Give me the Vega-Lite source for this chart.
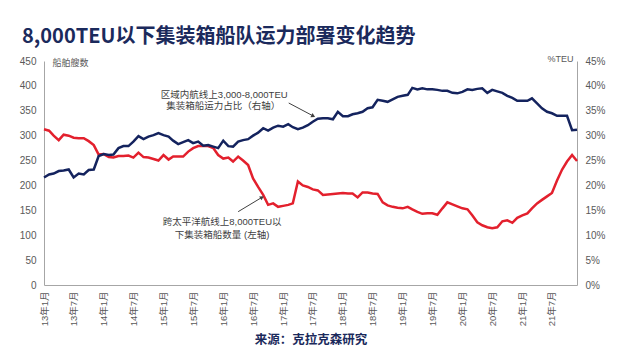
{
  "$schema": "https://vega.github.io/schema/vega-lite/v6.json",
  "width": 533,
  "height": 224,
  "autosize": {"type": "none"},
  "padding": {"left": 44, "top": 61, "right": 47, "bottom": 79},
  "background": "white",
  "title": {
    "text": "8,000TEU以下集装箱船队运力部署变化趋势",
    "anchor": "start",
    "frame": "group",
    "dx": -22,
    "offset": 7,
    "fontSize": 20,
    "fontWeight": "bold",
    "font": "Noto Sans CJK SC",
    "color": "#1b2a5c"
  },
  "config": {
    "view": {"stroke": null},
    "axis": {
      "labelFont": "Liberation Sans, Noto Sans CJK SC",
      "titleFont": "Noto Sans CJK SC",
      "labelColor": "#595959",
      "domainColor": "#a6a6a6",
      "grid": false,
      "ticks": false,
      "labelOverlap": false
    }
  },
  "datasets": {
    "series": [
      {"date": "2013-01-01", "count": 313, "share": 21.6},
      {"date": "2013-02-01", "count": 310, "share": 22.2},
      {"date": "2013-03-01", "count": 300, "share": 22.4},
      {"date": "2013-04-01", "count": 291, "share": 22.9},
      {"date": "2013-05-01", "count": 302, "share": 23.0},
      {"date": "2013-06-01", "count": 300, "share": 23.2},
      {"date": "2013-07-01", "count": 296, "share": 21.6},
      {"date": "2013-08-01", "count": 295, "share": 22.4},
      {"date": "2013-09-01", "count": 295, "share": 22.2},
      {"date": "2013-10-01", "count": 289, "share": 23.1},
      {"date": "2013-11-01", "count": 281, "share": 23.2},
      {"date": "2013-12-01", "count": 262, "share": 25.9},
      {"date": "2014-01-01", "count": 263, "share": 26.3},
      {"date": "2014-02-01", "count": 257, "share": 26.1},
      {"date": "2014-03-01", "count": 256, "share": 26.2},
      {"date": "2014-04-01", "count": 259, "share": 27.5},
      {"date": "2014-05-01", "count": 259, "share": 27.9},
      {"date": "2014-06-01", "count": 260, "share": 27.9},
      {"date": "2014-07-01", "count": 256, "share": 28.8},
      {"date": "2014-08-01", "count": 266, "share": 29.9},
      {"date": "2014-09-01", "count": 257, "share": 29.3},
      {"date": "2014-10-01", "count": 256, "share": 29.8},
      {"date": "2014-11-01", "count": 253, "share": 30.1},
      {"date": "2014-12-01", "count": 250, "share": 30.5},
      {"date": "2015-01-01", "count": 261, "share": 30.1},
      {"date": "2015-02-01", "count": 252, "share": 29.8},
      {"date": "2015-03-01", "count": 258, "share": 29.0},
      {"date": "2015-04-01", "count": 258, "share": 28.3},
      {"date": "2015-05-01", "count": 258, "share": 28.7},
      {"date": "2015-06-01", "count": 268, "share": 29.1},
      {"date": "2015-07-01", "count": 275, "share": 28.5},
      {"date": "2015-08-01", "count": 279, "share": 28.8},
      {"date": "2015-09-01", "count": 279, "share": 28.0},
      {"date": "2015-10-01", "count": 279, "share": 28.1},
      {"date": "2015-11-01", "count": 275, "share": 27.8},
      {"date": "2015-12-01", "count": 261, "share": 27.5},
      {"date": "2016-01-01", "count": 254, "share": 29.0},
      {"date": "2016-02-01", "count": 256, "share": 27.9},
      {"date": "2016-03-01", "count": 248, "share": 27.8},
      {"date": "2016-04-01", "count": 258, "share": 28.8},
      {"date": "2016-05-01", "count": 250, "share": 29.1},
      {"date": "2016-06-01", "count": 241, "share": 29.3},
      {"date": "2016-07-01", "count": 214, "share": 30.0},
      {"date": "2016-08-01", "count": 197, "share": 30.6},
      {"date": "2016-09-01", "count": 181, "share": 31.5},
      {"date": "2016-10-01", "count": 161, "share": 31.0},
      {"date": "2016-11-01", "count": 164, "share": 31.6},
      {"date": "2016-12-01", "count": 157, "share": 32.0},
      {"date": "2017-01-01", "count": 159, "share": 31.8},
      {"date": "2017-02-01", "count": 161, "share": 32.3},
      {"date": "2017-03-01", "count": 164, "share": 31.7},
      {"date": "2017-04-01", "count": 208, "share": 31.3},
      {"date": "2017-05-01", "count": 200, "share": 31.6},
      {"date": "2017-06-01", "count": 197, "share": 32.1},
      {"date": "2017-07-01", "count": 192, "share": 32.8},
      {"date": "2017-08-01", "count": 190, "share": 33.4},
      {"date": "2017-09-01", "count": 181, "share": 33.5},
      {"date": "2017-10-01", "count": 182, "share": 33.5},
      {"date": "2017-11-01", "count": 183, "share": 33.3},
      {"date": "2017-12-01", "count": 184, "share": 34.8},
      {"date": "2018-01-01", "count": 185, "share": 33.9},
      {"date": "2018-02-01", "count": 184, "share": 33.9},
      {"date": "2018-03-01", "count": 184, "share": 34.3},
      {"date": "2018-04-01", "count": 176, "share": 34.5},
      {"date": "2018-05-01", "count": 186, "share": 34.8},
      {"date": "2018-06-01", "count": 186, "share": 35.5},
      {"date": "2018-07-01", "count": 184, "share": 35.7},
      {"date": "2018-08-01", "count": 183, "share": 37.2},
      {"date": "2018-09-01", "count": 166, "share": 37.0},
      {"date": "2018-10-01", "count": 160, "share": 36.8},
      {"date": "2018-11-01", "count": 157, "share": 37.3},
      {"date": "2018-12-01", "count": 155, "share": 37.8},
      {"date": "2019-01-01", "count": 154, "share": 38.0},
      {"date": "2019-02-01", "count": 157, "share": 38.2},
      {"date": "2019-03-01", "count": 152, "share": 39.6},
      {"date": "2019-04-01", "count": 147, "share": 39.3},
      {"date": "2019-05-01", "count": 143, "share": 39.5},
      {"date": "2019-06-01", "count": 144, "share": 39.3},
      {"date": "2019-07-01", "count": 144, "share": 39.3},
      {"date": "2019-08-01", "count": 141, "share": 39.2},
      {"date": "2019-09-01", "count": 154, "share": 39.0},
      {"date": "2019-10-01", "count": 166, "share": 39.0},
      {"date": "2019-11-01", "count": 162, "share": 38.6},
      {"date": "2019-12-01", "count": 158, "share": 38.5},
      {"date": "2020-01-01", "count": 154, "share": 38.8},
      {"date": "2020-02-01", "count": 152, "share": 39.3},
      {"date": "2020-03-01", "count": 140, "share": 39.2},
      {"date": "2020-04-01", "count": 126, "share": 39.4},
      {"date": "2020-05-01", "count": 120, "share": 39.5},
      {"date": "2020-06-01", "count": 116, "share": 38.6},
      {"date": "2020-07-01", "count": 114, "share": 39.2},
      {"date": "2020-08-01", "count": 116, "share": 38.9},
      {"date": "2020-09-01", "count": 128, "share": 38.6},
      {"date": "2020-10-01", "count": 130, "share": 38.0},
      {"date": "2020-11-01", "count": 125, "share": 37.6},
      {"date": "2020-12-01", "count": 135, "share": 37.0},
      {"date": "2021-01-01", "count": 140, "share": 37.0},
      {"date": "2021-02-01", "count": 144, "share": 37.0},
      {"date": "2021-03-01", "count": 154, "share": 37.5},
      {"date": "2021-04-01", "count": 164, "share": 36.5},
      {"date": "2021-05-01", "count": 171, "share": 35.5},
      {"date": "2021-06-01", "count": 178, "share": 34.8},
      {"date": "2021-07-01", "count": 185, "share": 34.5},
      {"date": "2021-08-01", "count": 210, "share": 34.0},
      {"date": "2021-09-01", "count": 232, "share": 34.0},
      {"date": "2021-10-01", "count": 248, "share": 34.0},
      {"date": "2021-11-01", "count": 261, "share": 31.1},
      {"date": "2021-12-01", "count": 249, "share": 31.2}
    ],
    "notes": [
      {"date": "2016-01-07", "count": 382.7, "label": "区域内航线上3,000-8,000TEU"},
      {"date": "2016-01-01", "count": 358.6, "label": "集装箱船运力占比（右轴）"},
      {"date": "2015-12-25", "count": 125.6, "label": "跨太平洋航线上8,000TEU以"},
      {"date": "2015-12-25", "count": 100.4, "label": "下集装箱船数量 (左轴)"}
    ],
    "arrows": [
      {"id": 1, "date": "2017-02-04", "count": 365.6, "date2": "2017-07-04", "count2": 339.5},
      {"id": 2, "date": "2016-04-01", "count": 147.3, "date2": "2016-08-25", "count2": 176.2}
    ]
  },
  "layer": [
    {
      "data": {"name": "series"},
      "mark": {"type": "line", "color": "#e3202d", "strokeWidth": 2.5},
      "encoding": {
        "x": {
          "field": "date", "type": "temporal",
          "scale": {"type": "utc", "domain": ["2013-01-01", "2021-12-01"]},
          "axis": {
            "title": "来源：克拉克森研究",
            "titleFontSize": 12.5,
            "titleFontWeight": "bold",
            "titleColor": "#1b2a5c",
            "titlePadding": 8,
            "tickCount": {"interval": "month", "step": 6},
            "labelExpr": "utcFormat(datum.value, '%y年%-m月')",
            "labelAngle": -90,
            "labelFontSize": 9.5,
            "labelPadding": 6,
            "labelOverlap": false,
            "labelFlush": false
          }
        },
        "y": {
          "field": "count", "type": "quantitative",
          "scale": {"domain": [0, 450], "nice": false},
          "axis": {
            "title": "船舶艘数",
            "titleAngle": 0,
            "titleX": 8,
            "titleY": 1,
            "titleAlign": "left",
            "titleBaseline": "middle",
            "titleFontSize": 9,
            "titleFontWeight": "normal",
            "titleColor": "#595959",
            "values": [0, 50, 100, 150, 200, 250, 300, 350, 400, 450],
            "labelOverlap": false,
            "labelFontSize": 10,
            "labelPadding": 8
          }
        }
      }
    },
    {
      "data": {"name": "series"},
      "mark": {"type": "line", "color": "#14235e", "strokeWidth": 2.5},
      "encoding": {
        "x": {"field": "date", "type": "temporal"},
        "y": {
          "field": "share", "type": "quantitative",
          "scale": {"domain": [0, 45], "nice": false},
          "axis": {
            "orient": "right",
            "title": "%TEU",
            "titleAngle": 0,
            "titleX": -4,
            "titleY": -3,
            "titleAlign": "right",
            "titleBaseline": "middle",
            "titleFontSize": 9,
            "titleFontWeight": "normal",
            "titleColor": "#595959",
            "titleFont": "Liberation Sans",
            "values": [0, 5, 10, 15, 20, 25, 30, 35, 40, 45],
            "labelOverlap": false,
            "labelExpr": "datum.value + '%'",
            "labelFontSize": 10,
            "labelPadding": 8
          }
        }
      }
    },
    {
      "data": {"name": "notes"},
      "mark": {"type": "text", "fontSize": 9.5, "color": "#404040", "align": "center", "baseline": "middle", "font": "Liberation Sans, Noto Sans CJK SC"},
      "encoding": {
        "x": {"field": "date", "type": "temporal"},
        "y": {"field": "count", "type": "quantitative", "scale": {"domain": [0, 450], "nice": false}, "axis": null},
        "text": {"field": "label"}
      }
    },
    {
      "data": {"name": "arrows"},
      "mark": {"type": "rule", "color": "#404040", "strokeWidth": 1},
      "encoding": {
        "x": {"field": "date", "type": "temporal"},
        "x2": {"field": "date2"},
        "y": {"field": "count", "type": "quantitative", "scale": {"domain": [0, 450], "nice": false}, "axis": null},
        "y2": {"field": "count2"}
      }
    },
    {
      "data": {"name": "arrows"},
      "transform": [{"filter": "datum.id == 1"}],
      "mark": {"type": "point", "shape": "triangle-right", "angle": 27.5, "filled": true, "color": "#404040", "size": 22, "opacity": 1},
      "encoding": {
        "x": {"field": "date2", "type": "temporal"},
        "y": {"field": "count2", "type": "quantitative", "scale": {"domain": [0, 450], "nice": false}, "axis": null}
      }
    },
    {
      "data": {"name": "arrows"},
      "transform": [{"filter": "datum.id == 2"}],
      "mark": {"type": "point", "shape": "triangle-right", "angle": 328, "filled": true, "color": "#404040", "size": 22, "opacity": 1},
      "encoding": {
        "x": {"field": "date2", "type": "temporal"},
        "y": {"field": "count2", "type": "quantitative", "scale": {"domain": [0, 450], "nice": false}, "axis": null}
      }
    }
  ],
  "resolve": {"scale": {"y": "independent"}}
}
